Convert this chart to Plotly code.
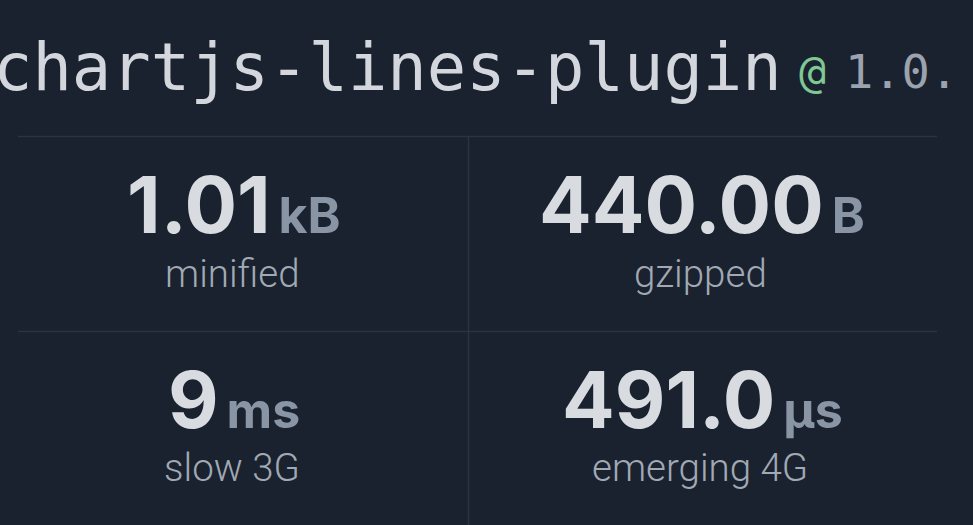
import plotly.graph_objects as go

package_name = "chartjs-lines-plugin"
package_version = "1.0."
values = ["1.01", "440.00", "9", "491.0"]
units = ["kB", "B", "ms", "µs"]
labels = ["minified", "gzipped", "slow 3G", "emerging 4G"]

W, H = 973, 525
BG = "#19222e"
LINE = "#2b3542"

fig = go.Figure()

def px(x): return x / W
def py(y): return 1 - y / H

ann = []
# title
ann.append(dict(
    x=px(784), y=py(67), xref="paper", yref="paper", xanchor="right", yanchor="middle",
    text=package_name, showarrow=False,
    font=dict(family="DejaVu Sans Mono", size=65.5, color="#d3d7dd")))
ann.append(dict(
    x=px(812), y=py(71), xref="paper", yref="paper", xanchor="center", yanchor="middle",
    text="@", showarrow=False,
    font=dict(family="DejaVu Sans Mono", size=45, color="#7fc794")))
ann.append(dict(
    x=px(843), y=py(72), xref="paper", yref="paper", xanchor="left", yanchor="middle",
    text=package_version, showarrow=False,
    font=dict(family="DejaVu Sans Mono", size=47, color="#9aa3ae")))

centers = [(234, 205, 273), (702, 205, 273), (234, 399, 467), (702, 399, 467)]
for (cx, vy, ly), v, u, l in zip(centers, values, units, labels):
    ann.append(dict(
        x=px(cx), y=py(vy), xref="paper", yref="paper", xanchor="center", yanchor="middle",
        text="<b>" + v + "</b><span style='font-size:50px;color:#8994a4'><b>\u2009" + u + "</b></span>",
        showarrow=False,
        font=dict(family="Inter", size=78, color="#d8dbe0")))
    ann.append(dict(
        x=px(cx - 2), y=py(ly), xref="paper", yref="paper", xanchor="center", yanchor="middle",
        text=l, showarrow=False,
        font=dict(family="Roboto", size=38.5, color="#a1a9b4", weight=300)))

shapes = [
    dict(type="line", xref="paper", yref="paper", x0=px(18), x1=px(937), y0=py(136.5), y1=py(136.5),
         line=dict(color=LINE, width=1.5)),
    dict(type="line", xref="paper", yref="paper", x0=px(18), x1=px(937), y0=py(331.5), y1=py(331.5),
         line=dict(color=LINE, width=1.5)),
    dict(type="line", xref="paper", yref="paper", x0=px(468.5), x1=px(468.5), y0=py(136.5), y1=0,
         line=dict(color=LINE, width=1.5)),
]

fig.update_layout(
    width=W, height=H, margin=dict(l=0, r=0, t=0, b=0),
    paper_bgcolor=BG, plot_bgcolor=BG,
    xaxis=dict(visible=False), yaxis=dict(visible=False),
    annotations=ann, shapes=shapes, showlegend=False,
)
fig.write_html(
    "out.html",
    config={"displayModeBar": False},
    post_script="document.body.style.margin='0';document.body.style.background='#19222e';document.body.style.overflow='hidden';",
)
